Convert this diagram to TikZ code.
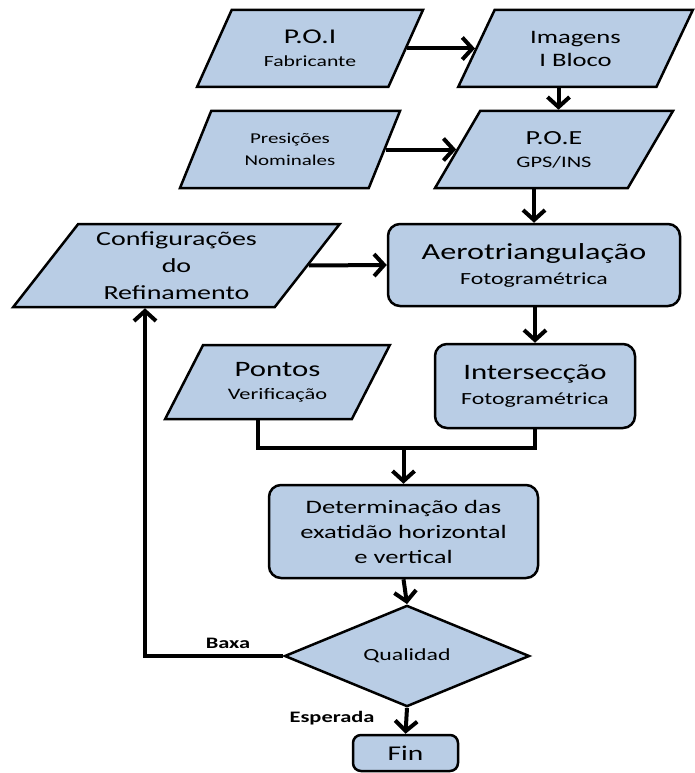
\documentclass[tikz,border=0pt]{standalone}
\usepackage{fontspec}
\setmainfont[FakeStretch=1.4]{Carlito}
\usetikzlibrary{shapes.geometric,arrows.meta,calc}
\newcommand\fsz[1]{\fontsize{#1}{#1}\selectfont}
\definecolor{boxblue}{HTML}{B9CDE5}
\tikzset{
  para/.style 2 args={trapezium, trapezium stretches=true,
    trapezium left angle=#1, trapezium right angle=#2,
    draw=black, line width=2.5pt, fill=boxblue, inner sep=0pt, align=center},
  rbox/.style={rectangle, rounded corners=12pt, draw=black, line width=2.5pt,
    fill=boxblue, inner sep=0pt, align=center},
  dia/.style={diamond, draw=black, line width=2.5pt, fill=boxblue,
    inner sep=0pt, align=center},
  lsp/.style={font=\fontsize{10}{#1}\selectfont},
  conn/.style={line width=4pt, -{Straight Barb[length=10pt,width=22pt,line width=4pt]}},
  plain/.style={line width=4pt},
  lbl/.style={font=\bfseries\fsz{16}, inner sep=0pt}
}
\begin{document}
\begin{tikzpicture}[x=1pt,y=-1pt]
\useasboundingbox (0,0) rectangle (695,773);

\node[para={61}{119}, lsp=23pt, minimum width=226pt, minimum height=77pt] (poi) at (310,48.5)
  {{\fsz{21}P.O.I}\\{\fsz{15.5}Fabricante}};
\node[para={60}{120}, lsp=23pt, minimum width=235pt, minimum height=77pt] (img) at (575.5,48.5)
  {{\fsz{19}Imagens}\\{\fsz{19}I Bloco}};
\node[para={61}{119}, lsp=22pt, minimum width=220pt, minimum height=77pt] (pre) at (290,149.5)
  {{\fsz{15}Presições}\\{\fsz{15}Nominales}};
\node[para={58}{122}, lsp=23pt, minimum width=238pt, minimum height=77pt] (poe) at (554,149.5)
  {{\fsz{20}P.O.E}\\{\fsz{16}GPS/INS}};
\node[para={52}{128}, lsp=27pt, minimum width=327pt, minimum height=83pt] (cfg) at (176.5,265.5)
  {{\fsz{20}Configurações}\\{\fsz{20}do}\\{\fsz{20}Refinamento}};
\node[rbox, lsp=25pt, minimum width=292pt, minimum height=82pt] (aero) at (534,265)
  {{\fsz{23}Aerotriangulação}\\{\fsz{17}Fotogramétrica}};
\node[para={57.5}{122.5}, lsp=23pt, minimum width=225pt, minimum height=74pt] (pon) at (277.5,382)
  {{\fsz{22}Pontos}\\{\fsz{16}Verificação}};
\node[rbox, lsp=25pt, minimum width=200pt, minimum height=84pt] (int) at (535,386)
  {{\fsz{22}Intersecção}\\{\fsz{17}Fotogramétrica}};
\node[rbox, lsp=25pt, minimum width=269pt, minimum height=93pt] (det) at (403.5,531.5)
  {{\fsz{19}Determinação das}\\{\fsz{19}exatidão horizontal}\\{\fsz{19}e vertical}};
\node[dia, minimum width=245pt, minimum height=100pt] (qual) at (407,656)
  {\fsz{17}Qualidad};
\node[rbox, rounded corners=8pt, minimum width=105pt, minimum height=36pt] (fin) at (405.5,753)
  {\fsz{21}Fin};

% connectors
\draw[conn] ($(poi.top right corner)!0.5!(poi.bottom right corner)$)
  -- ($(img.top left corner)!0.5!(img.bottom left corner)$);
\draw[conn] ($(pre.top right corner)!0.5!(pre.bottom right corner)$)
  -- ($(poe.top left corner)!0.5!(poe.bottom left corner)$);
\coordinate (imgdown) at ($(img.south)+(-17,0)$);
\draw[conn] (imgdown) -- (imgdown |- poe.north);
\draw[conn] (aero.north |- poe.south) -- (aero.north);
\draw[conn] ($(cfg.top right corner)!0.5!(cfg.bottom right corner)$) -- (aero.west);
\draw[conn] (int.north |- aero.south) -- (int.north);

\coordinate (ponb) at ($(pon.bottom left corner)!0.5!(pon.bottom right corner)$);
\coordinate (merge) at (det.north |- 0,448);
\draw[plain] (ponb) -- (ponb |- merge) -- (int.south |- merge) -- (int.south);
\draw[conn] (merge) -- (det.north);
\draw[conn] (det.south) -- (qual.north);
\draw[conn] (qual.south) -- (fin.north);
\coordinate (back) at (145,0);
\draw[conn] (qual.west) -- (back |- qual.west) -- (back |- cfg.south);

\node[lbl, anchor=base] (baxa) at (228,648) {Baxa};
\node[lbl, anchor=base] (esp) at (332,722) {Esperada};
\end{tikzpicture}
\end{document}
